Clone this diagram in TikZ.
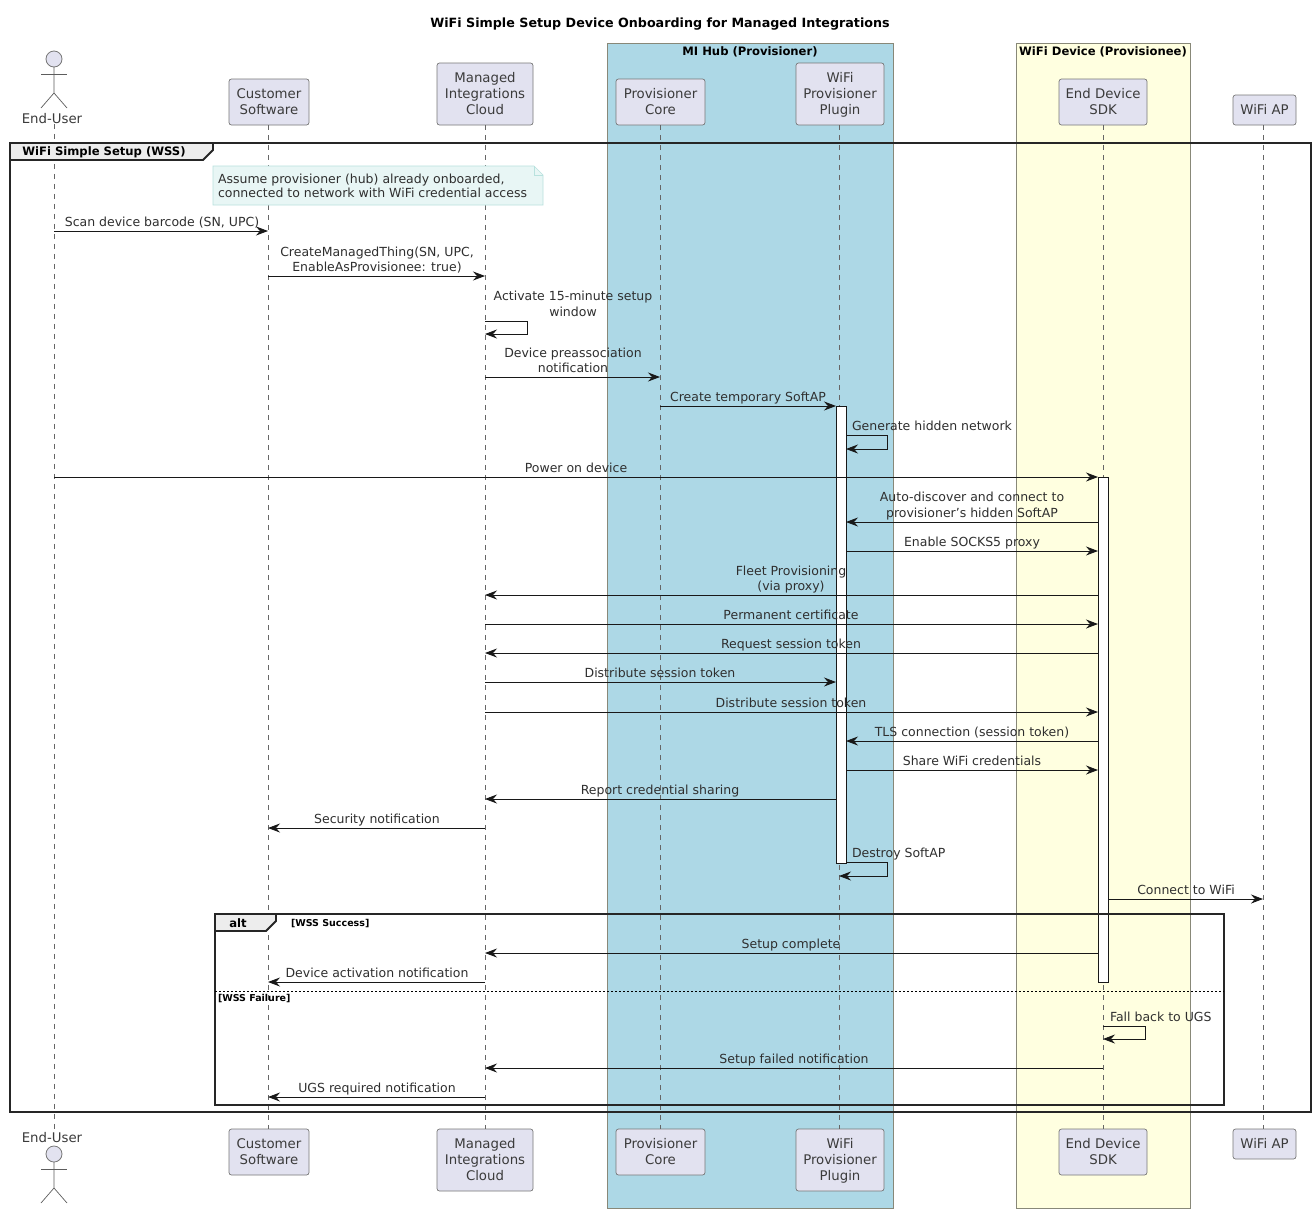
\documentclass[tikz,border=0pt]{standalone}
\usepackage{fontspec}
\setmainfont{DejaVu Sans}
\usetikzlibrary{arrows.meta}
\definecolor{ink}{HTML}{181818}
\definecolor{boxfill}{HTML}{E2E2F0}
\definecolor{boxline}{HTML}{777777}
\definecolor{bandblue}{HTML}{ADD8E6}
\definecolor{bandyellow}{HTML}{FFFFE0}
\definecolor{bandline}{HTML}{888878}
\definecolor{notefill}{HTML}{E8F6F5}
\definecolor{noteline}{HTML}{B8E2DE}
\definecolor{lifeline}{HTML}{666666}
\newcounter{lb}
\newcommand{\dpt}{\rule[-3pt]{0pt}{3pt}}
\newcommand{\bt}{\rule{0pt}{13pt}}
\newcommand{\bd}{\rule[-3.2pt]{0pt}{3.2pt}}
% x, y of the message line, text
\newcommand{\lbl}[3]{\stepcounter{lb}\node[msgtext,anchor=south] (lab\arabic{lb}) at (#1,{-#2+1.3}) {#3\dpt};}
\newcommand{\llbl}[3]{\stepcounter{lb}\node[msgtext,anchor=south west,align=left] (lab\arabic{lb}) at (#1,{-#2+1.3}) {#3\dpt};}
\newcommand{\msg}[3]{\draw[msgline] (#1 |- 0,-#3) -- (#2 |- 0,-#3);}
\begin{document}
\begin{tikzpicture}[x=1pt,y=1pt,
  every node/.style={inner sep=0pt,outer sep=0pt},
  pbox/.style={draw=boxline,fill=boxfill,rounded corners=2.5pt,line width=0.7pt,align=center,
    font=\fontsize{13.3}{16}\selectfont,text=ink!85},
  msgtext/.style={align=center,font=\fontsize{12.5}{15.3}\selectfont,text=ink!90},
  boldtext/.style={font=\bfseries\fontsize{11.6}{14}\selectfont,text=black},
  guardtext/.style={font=\bfseries\fontsize{9.5}{11}\selectfont,text=black},
  msgline/.style={draw=ink,line width=0.8pt,-{Stealth[length=12pt,width=9pt,inset=4pt]}},
  selfline/.style={draw=ink,line width=0.8pt,-{Stealth[length=12pt,width=9pt,inset=4pt]}},
  lifel/.style={draw=lifeline,line width=0.6pt,dash pattern=on 5pt off 5pt},
  actbar/.style={draw=ink,fill=white,line width=0.8pt,minimum width=10pt},
  frameline/.style={draw=black!85,line width=1.9pt},
  band/.style={draw=bandline,line width=0.8pt},
  actorline/.style={draw=ink!70,line width=0.7pt}]
\useasboundingbox (0,0) rectangle (1316,-1213);
\fill[white] (0,0) rectangle (1316,-1213);

% bands
\node[band,fill=bandblue,minimum width=286pt,minimum height=1165pt] (hub) at (750,-625.5) {};
\node[band,fill=bandyellow,minimum width=174pt,minimum height=1165pt] (dev) at (1103,-625.5) {};
\node[boldtext] (hubt) at (750,-51.5) {MI Hub (Provisioner)};
\node[boldtext] (devt) at (1103,-51.5) {WiFi Device (Provisionee)};
\node[font=\bfseries\fontsize{12.7}{15}\selectfont] (title) at (660,-24) {WiFi Simple Setup Device Onboarding for Managed Integrations};

% lifeline x positions
\coordinate (xu) at (54,0);
\coordinate (xc) at (268,0);
\coordinate (xm) at (485,0);
\coordinate (xp) at (660,0);
\coordinate (xw) at (839,0);
\coordinate (xs) at (1103,0);
\coordinate (xa) at (1263,0);

% participants top
\node[pbox,minimum width=80pt,minimum height=46pt] (cs) at (269,-102) {\bt Customer\\Software\bd};
\node[pbox,minimum width=96pt,minimum height=62pt] (mc) at (485,-94) {\bt Managed\\Integrations\\Cloud\bd};
\node[pbox,minimum width=89pt,minimum height=46pt] (pc) at (660.5,-102) {\bt Provisioner\\Core\bd};
\node[pbox,minimum width=88pt,minimum height=62pt] (wp) at (840,-94) {\bt WiFi\\Provisioner\\Plugin\bd};
\node[pbox,minimum width=88pt,minimum height=46pt] (sd) at (1103,-102) {\bt End Device\\SDK\bd};
\node[pbox,minimum width=63pt,minimum height=30pt] (ap) at (1264.5,-110) {\bt WiFi AP\bd};
% participants bottom
\node[pbox,minimum width=80pt,minimum height=46pt] (csb) at (269,-1152) {\bt Customer\\Software\bd};
\node[pbox,minimum width=96pt,minimum height=62pt] (mcb) at (485,-1160) {\bt Managed\\Integrations\\Cloud\bd};
\node[pbox,minimum width=89pt,minimum height=46pt] (pcb) at (660.5,-1152) {\bt Provisioner\\Core\bd};
\node[pbox,minimum width=88pt,minimum height=62pt] (wpb) at (840,-1160) {\bt WiFi\\Provisioner\\Plugin\bd};
\node[pbox,minimum width=88pt,minimum height=46pt] (sdb) at (1103,-1152) {\bt End Device\\SDK\bd};
\node[pbox,minimum width=63pt,minimum height=30pt] (apb) at (1264.5,-1144) {\bt WiFi AP\bd};

% actors
\node[font=\fontsize{13.3}{16}\selectfont,text=ink!85] (eu) at (52,-118.7) {End-User};
\node[font=\fontsize{13.3}{16}\selectfont,text=ink!85] (eub) at (52,-1137.7) {End-User};
\node[circle,draw=boxline,fill=boxfill,line width=0.8pt,minimum size=16pt] (ah) at (54,-59) {};
\node[circle,draw=boxline,fill=boxfill,line width=0.8pt,minimum size=16pt] (ahb) at (54,-1154) {};
\draw[actorline] (ah.south) -- ++(0,-26) coordinate (hip) -- ++(-13,-15);
\draw[actorline] (hip) -- ++(13,-15);
\draw[actorline] ([xshift=-13pt,yshift=-7pt]ah.south) -- ++(26,0);
\draw[actorline] (ahb.south) -- ++(0,-26) coordinate (hipb) -- ++(-13,-15);
\draw[actorline] (hipb) -- ++(13,-15);
\draw[actorline] ([xshift=-13pt,yshift=-7pt]ahb.south) -- ++(26,0);

% lifelines
\draw[lifel] (xu |- eu.south) -- (xu |- eub.north);
\draw[lifel] (xc |- cs.south) -- (xc |- csb.north);
\draw[lifel] (xm |- mc.south) -- (xm |- mcb.north);
\draw[lifel] (xp |- pc.south) -- (xp |- pcb.north);
\draw[lifel] (xw |- wp.south) -- (xw |- wpb.north);
\draw[lifel] (xs |- sd.south) -- (xs |- sdb.north);
\draw[lifel] (xa |- ap.south) -- (xa |- apb.north);

% activation bars
\node[actbar,minimum height=457pt] (aw) at (841,-634.5) {};
\node[actbar,minimum height=505pt] (as) at (1103,-729.5) {};

% frames
\draw[frameline] (10,-143) rectangle (1311,-1112);
\draw[frameline,fill=black!7] (10,-143) -- (213,-143) -- (213,-150) -- (203,-160) -- (10,-160) -- cycle;
\node[boldtext] (wss) at (104,-152.5) {WiFi Simple Setup (WSS)};
\draw[frameline] (215,-914) rectangle (1224,-1105);
\draw[frameline,fill=black!7] (215,-914) -- (276,-914) -- (276,-921) -- (266,-931) -- (215,-931) -- cycle;
\node[boldtext] (alt) at (238,-923.5) {alt};
\node[guardtext,anchor=west] (g1) at (291,-923.5) {[WSS Success]};
\node[guardtext,anchor=west] (g2) at (218,-998.5) {[WSS Failure]};
\draw[draw=black,line width=0.7pt,dash pattern=on 2pt off 2pt] (215,-991) -- (1224,-991);

% note
\draw[draw=noteline,fill=notefill,line width=0.7pt] (213,-166) -- (534,-166) -- (543,-175) -- (543,-205) -- (213,-205) -- cycle;
\draw[draw=noteline,line width=0.7pt] (534,-166) -- (534,-175) -- (543,-175);
\node[msgtext,anchor=west,align=left,font=\fontsize{12.5}{14.2}\selectfont] (note) at (218,-186) {Assume provisioner (hub) already onboarded,\\connected to network with WiFi credential access};

% messages
\msg{xu}{xc}{231}
\lbl{162}{231}{Scan device barcode (SN, UPC)}
\msg{xc}{xm}{276}
\lbl{377}{276}{CreateManagedThing(SN, UPC,\\EnableAsProvisionee: true)}
\draw[selfline] (xm |- 0,-321) -- ++(42,0) -- ++(0,-13) -- ++(-42,0);
\lbl{573}{320.5}{Activate 15-minute setup\\window}
\msg{xm}{xp}{377}
\lbl{573}{377}{Device preassociation\\notification}
\draw[msgline] (xp |- 0,-406) -- (aw.west |- 0,-406);
\lbl{748}{406}{Create temporary SoftAP}
\draw[selfline] (aw.east |- 0,-435) -- ++(41,0) -- ++(0,-14) -- ++(-41,0);
\llbl{852}{435}{Generate hidden network}
\draw[msgline] (xu |- 0,-477) -- (as.west |- 0,-477);
\lbl{576}{477}{Power on device}
\draw[msgline] (as.west |- 0,-522) -- (aw.east |- 0,-522);
\lbl{972}{521.5}{Auto-discover and connect to\\provisioner's hidden SoftAP}
\draw[msgline] (aw.east |- 0,-551) -- (as.west |- 0,-551);
\lbl{972}{551}{Enable SOCKS5 proxy}
\draw[msgline] (as.west |- 0,-595) -- (xm |- 0,-595);
\lbl{791}{595}{Fleet Provisioning\\(via proxy)}
\draw[msgline] (xm |- 0,-624) -- (as.west |- 0,-624);
\lbl{791}{624}{Permanent certificate}
\draw[msgline] (as.west |- 0,-653) -- (xm |- 0,-653);
\lbl{791}{653}{Request session token}
\draw[msgline] (xm |- 0,-682) -- (aw.west |- 0,-682);
\lbl{660}{682}{Distribute session token}
\draw[msgline] (xm |- 0,-712) -- (as.west |- 0,-712);
\lbl{791}{711.3}{Distribute session token}
\draw[msgline] (as.west |- 0,-741) -- (aw.east |- 0,-741);
\lbl{972}{740.3}{TLS connection (session token)}
\draw[msgline] (aw.east |- 0,-770) -- (as.west |- 0,-770);
\lbl{972}{770}{Share WiFi credentials}
\draw[msgline] (aw.west |- 0,-799) -- (xm |- 0,-799);
\lbl{660}{799}{Report credential sharing}
\msg{xm}{xc}{828}
\lbl{377}{828}{Security notification}
\draw[selfline] (aw.east |- 0,-862) -- ++(41,0) -- ++(0,-14) -- (xw |- 0,-876);
\llbl{852}{862}{Destroy SoftAP}
\draw[msgline] (as.east |- 0,-899) -- (xa |- 0,-899);
\lbl{1186}{899}{Connect to WiFi}
\draw[msgline] (as.west |- 0,-953) -- (xm |- 0,-953);
\lbl{791}{952.3}{Setup complete}
\msg{xm}{xc}{982}
\lbl{377}{981.3}{Device activation notification}
\draw[selfline] (xs |- 0,-1026) -- ++(42,0) -- ++(0,-13) -- ++(-42,0);
\llbl{1110}{1025.3}{Fall back to UGS}
\msg{xs}{xm}{1068}
\lbl{794}{1067.3}{Setup failed notification}
\msg{xm}{xc}{1097}
\lbl{377}{1097}{UGS required notification}
\end{tikzpicture}
\end{document}
